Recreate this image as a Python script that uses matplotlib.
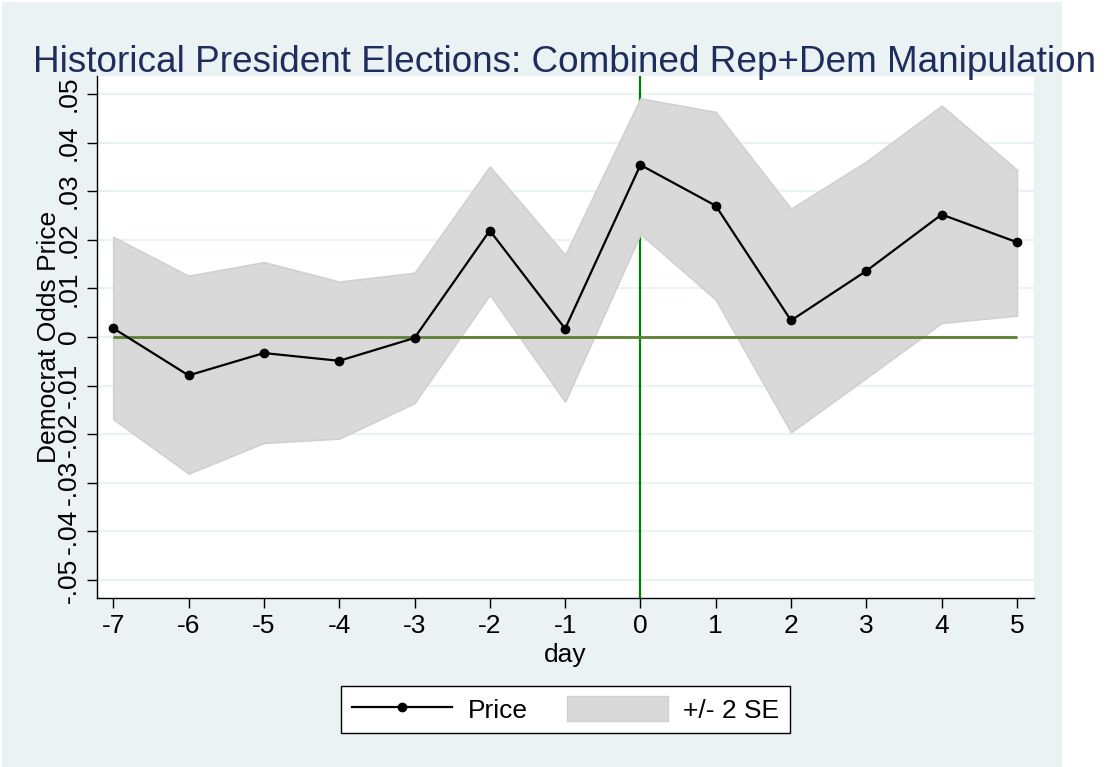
import matplotlib
matplotlib.use("Agg")
import matplotlib.pyplot as plt
from matplotlib.lines import Line2D
from matplotlib.patches import Patch, Rectangle

days = [-7, -6, -5, -4, -3, -2, -1, 0, 1, 2, 3, 4, 5]
price = [0.0018, -0.0079, -0.0033, -0.0049, -0.0002, 0.0219, 0.0017,
         0.0354, 0.0270, 0.0034, 0.0136, 0.0252, 0.0195]
upper = [0.0206, 0.0126, 0.0154, 0.0114, 0.0132, 0.0351, 0.0169,
         0.0491, 0.0463, 0.0264, 0.0361, 0.0476, 0.0344]
lower = [-0.0169, -0.0281, -0.0218, -0.0209, -0.0136, 0.0087, -0.0133,
         0.0212, 0.0077, -0.0196, -0.0084, 0.0029, 0.0044]
yticks = [-0.05, -0.04, -0.03, -0.02, -0.01, 0.0, 0.01, 0.02, 0.03, 0.04, 0.05]
ytick_labels = ["-.05", "-.04", "-.03", "-.02", "-.01", "0",
                ".01", ".02", ".03", ".04", ".05"]

title = "Historical President Elections: Combined Rep+Dem Manipulation"
bg = "#eaf2f3"
fs = 19

plt.rcParams["font.family"] = ["Liberation Sans", "DejaVu Sans"]

W, H = 1106, 767
fig = plt.figure(figsize=(W / 100, H / 100), dpi=100, facecolor="white")
fig.patches.append(Rectangle((2 / W, 0), 1060 / W, 1 - 2 / H, transform=fig.transFigure,
                             facecolor=bg, edgecolor="none", zorder=-10))

ax = fig.add_axes([97 / W, 1 - 598 / H, 937 / W, 522 / H])
ax.set_facecolor("white")

ax.set_xlim(-7.216, 5.226)
ax.set_ylim(-0.0537, 0.0537)

for y in yticks:
    ax.axhline(y, color=bg, lw=1.6, zorder=0)

# vertical marker sits under the band, zero line over it
ax.axvline(0, color="#008000", lw=1.6, zorder=1)
ax.fill_between(days, lower, upper, facecolor="#d9d9d9", edgecolor="#d0d0d0", lw=1.2, zorder=2)
ax.hlines(0, days[0], days[-1], color="#5b7f33", lw=2, zorder=3)
ax.plot(days, price, color="black", lw=1.6, marker="o", ms=6, zorder=4)

ax.set_xticks(days)
ax.set_xticklabels([str(d) for d in days])
ax.set_yticks(yticks)
ax.set_yticklabels(ytick_labels, rotation=90, va="center")
ax.tick_params(axis="both", labelsize=fs, length=7.5, width=1, direction="out")
ax.tick_params(axis="y", pad=4)
ax.tick_params(axis="x", pad=4)

for s in ["top", "right"]:
    ax.spines[s].set_visible(False)
for s in ["left", "bottom"]:
    ax.spines[s].set_linewidth(1)

ax.set_xlabel("day", fontsize=fs)
ax.xaxis.set_label_coords(0.5, -0.109)
ax.xaxis.label.set_va("center")
ax.set_ylabel("Democrat Odds Price", fontsize=fs)
ax.yaxis.set_label_coords(-41 / 937, 0.5)
ax.yaxis.label.set_va("baseline")

fig.text(33 / W, 1 - 72 / H, title, ha="left", va="baseline", fontsize=26.6, color="#1e2d5c")

handles = [Line2D([], [], color="black", lw=1.6, marker="o", ms=6),
           Patch(facecolor="#d9d9d9", edgecolor="#d0d0d0")]
leg = fig.legend(handles, ["Price", "+/- 2 SE"], loc="center",
                 bbox_to_anchor=(565.5 / W, 1 - 709.5 / H), ncol=2, fontsize=fs,
                 frameon=True, fancybox=False, edgecolor="black", framealpha=1,
                 handlelength=3.8, handleheight=1.05, handletextpad=0.6,
                 columnspacing=1.5, borderpad=0.4, numpoints=1)
leg.get_frame().set_linewidth(1)

fig.savefig("out.png", dpi=100, facecolor="white")
